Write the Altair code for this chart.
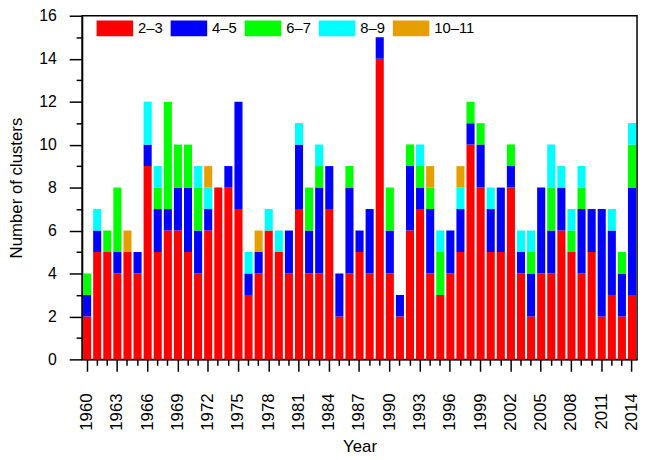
import altair as alt
import pandas as pd

years = list(range(1960, 2015))
# counts per year for each cluster-size class
c23 = [2,5,5,4,5,4,9,5,6,6,5,4,6,8,8,7,3,4,6,5,4,7,4,4,7,2,4,5,4,14,
       4,2,6,7,4,3,4,5,10,8,5,5,8,4,2,4,4,6,5,4,5,2,3,2,3]
c45 = [1,1,0,1,0,1,1,2,1,2,3,2,1,0,1,5,1,1,0,0,2,3,2,4,2,2,4,1,3,1,
       2,1,3,1,3,0,2,2,1,2,2,3,1,1,2,4,2,2,0,3,2,5,3,2,5]
c67 = [1,0,1,3,0,0,0,1,5,2,2,2,0,0,0,0,0,0,0,0,0,0,2,1,0,0,1,0,0,0,
       2,0,1,1,1,2,0,0,1,1,0,0,1,0,1,0,2,0,1,1,0,0,0,1,2]
c89 = [0,1,0,0,0,0,2,1,0,0,0,1,1,0,0,0,1,0,1,1,0,1,0,1,0,0,0,0,0,0,
       0,0,0,1,0,1,0,1,0,0,1,0,0,1,1,0,2,1,1,1,0,0,1,0,1]
c1011 = [0,0,0,0,1,0,0,0,0,0,0,0,1,0,0,0,0,1,0,0,0,0,0,0,0,0,0,0,0,0,
         0,0,0,0,1,0,0,1,0,0,0,0,0,0,0,0,0,0,0,0,0,0,0,0,0]

classes = ["2–3", "4–5", "6–7", "8–9", "10–11"]
colors = ["#FF0000", "#0000FF", "#00FF00", "#00FFFF", "#E69F00"]
series = [c23, c45, c67, c89, c1011]

rows = []
for k, (name, vals) in enumerate(zip(classes, series)):
    for y, v in zip(years, vals):
        if v > 0:
            rows.append({"Year": y, "Class": name, "k": k, "Count": v})
df = pd.DataFrame(rows)

font = "Liberation Sans"
major_x = "(+datum.value - 1960) % 3 === 0"

chart = alt.Chart(df).mark_bar(opacity=1).encode(
    x=alt.X("Year:O",
            scale=alt.Scale(domain=years, paddingInner=0.2, paddingOuter=0.1),
            axis=alt.Axis(title="Year", values=years, labelAngle=270,
                          labelExpr=major_x + " ? datum.label : ''",
                          tickSize={"expr": major_x + " ? 12 : 6"},
                          labelPadding=22, labelFontSize=17, titleFontSize=17,
                          titlePadding=8, titleFontWeight="normal")),
    y=alt.Y("Count:Q", stack="zero",
            scale=alt.Scale(domain=[0, 16], nice=False),
            axis=alt.Axis(title="Number of clusters", values=list(range(0, 17)),
                          labelExpr="datum.value % 2 === 0 ? datum.label : ''",
                          tickSize={"expr": "datum.value % 2 === 0 ? 13 : 6"},
                          labelPadding=13, labelFontSize=16, titleFontSize=17,
                          titlePadding=14, titleFontWeight="normal")),
    color=alt.Color("Class:N",
                    scale=alt.Scale(domain=classes, range=colors),
                    legend=alt.Legend(title=None, orient="none", legendX=14.7, legendY=-6,
                                      direction="horizontal", columns=5,
                                      symbolType="M-1,-0.43H1V0.43H-1Z",
                                      symbolSize=1369, symbolStrokeWidth=0,
                                      symbolOpacity=1,
                                      labelFontSize=15, labelOffset=5,
                                      columnPadding=7, padding=0)),
    order=alt.Order("k:Q", sort="ascending"),
).properties(
    width=562, height=348,
    autosize=alt.AutoSizeParams(type="none"),
    padding={"left": 75, "top": 5, "right": 3, "bottom": 95},
).configure(
    font=font,
).configure_view(
    stroke="black", strokeWidth=1.5,
).configure_axis(
    domainColor="black", domainWidth=1.5, tickColor="black", tickWidth=1.5,
    labelColor="black", titleColor="black", labelFont=font, titleFont=font,
    grid=False,
).configure_legend(
    labelFont=font, labelColor="black",
)

chart.save("out.html", embed_options={"renderer": "svg", "actions": False})
